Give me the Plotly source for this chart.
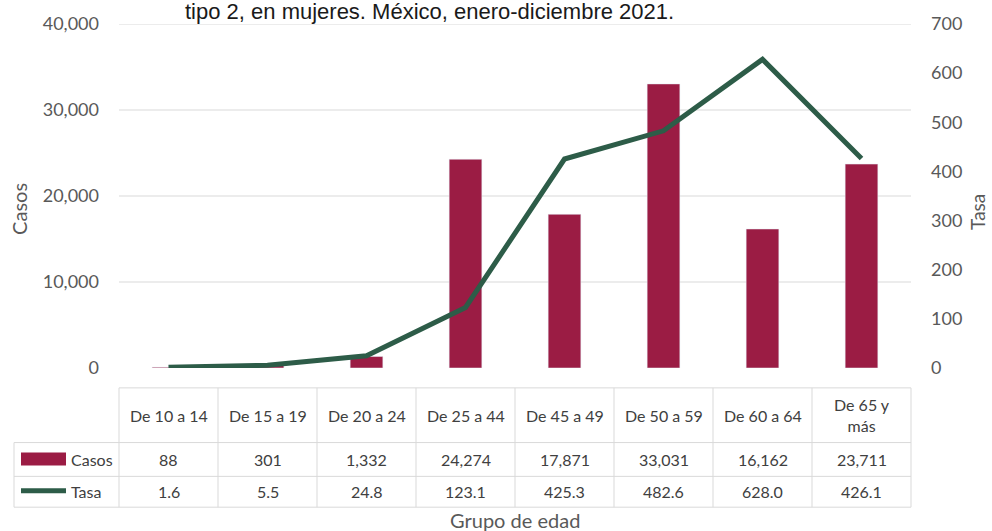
import plotly.graph_objects as go

# Data
grupos = ["De 10 a 14", "De 15 a 19", "De 20 a 24", "De 25 a 44",
          "De 45 a 49", "De 50 a 59", "De 60 a 64", "De 65 y<br>más"]
casos = [88, 301, 1332, 24274, 17871, 33031, 16162, 23711]
tasa = [1.6, 5.5, 24.8, 123.1, 425.3, 482.6, 628.0, 426.1]
casos_ticks = [0, 10000, 20000, 30000, 40000]
tasa_ticks = [0, 100, 200, 300, 400, 500, 600, 700]

BAR = "#9b1c44"
LINE = "#2d5c48"
GRID = "#d9d9d9"
TXT = "#404040"
AXT = "#595959"
FONT = "Lato"

W, H = 992, 531
L, R, T, B = 119, 81, 22, 163
PH = H - T - B  # plot height in px
PW = W - L - R  # plot width in px


def ypx(p):
    """Pixel row -> paper y."""
    return (H - B - p) / PH


def xpx(p):
    """Pixel column -> paper x."""
    return (p - L) / PW


n = len(grupos)
idx = list(range(n))

fig = go.Figure()
fig.add_trace(go.Bar(x=idx, y=casos, name="Casos", marker_color=BAR,
                     width=0.33, yaxis="y"))
fig.add_trace(go.Scatter(x=idx, y=tasa, name="Tasa", mode="lines",
                         line=dict(color=LINE, width=5), yaxis="y2"))

shapes = []
# horizontal gridlines of the Casos axis
for v in casos_ticks[1:]:
    shapes.append(dict(type="line", xref="paper", yref="y", x0=0, x1=1,
                       y0=v, y1=v, line=dict(color=GRID, width=1), layer="below"))

# data table below the plot
r_top, r1, r2, r_bot = 388, 443, 477, 508
tbl = dict(color=GRID, width=1)
shapes.append(dict(type="line", xref="paper", yref="paper", x0=0, x1=1,
                   y0=ypx(r_top), y1=ypx(r_top), line=tbl))
for r in (r1, r2, r_bot):
    shapes.append(dict(type="line", xref="paper", yref="paper", x0=xpx(14), x1=1,
                       y0=ypx(r), y1=ypx(r), line=tbl))
for k in range(n + 1):
    shapes.append(dict(type="line", xref="paper", yref="paper", x0=k / n, x1=k / n,
                       y0=ypx(r_top), y1=ypx(r_bot), line=tbl))
shapes.append(dict(type="line", xref="paper", yref="paper", x0=xpx(14), x1=xpx(14),
                   y0=ypx(r1), y1=ypx(r_bot), line=tbl))
# legend keys inside the table
shapes.append(dict(type="rect", xref="paper", yref="paper", x0=xpx(21), x1=xpx(66),
                   y0=ypx(466), y1=ypx(453), fillcolor=BAR, line=dict(width=0)))
shapes.append(dict(type="line", xref="paper", yref="paper", x0=xpx(21), x1=xpx(66),
                   y0=ypx(491.5), y1=ypx(491.5), line=dict(color=LINE, width=5)))

ann = []
tf = dict(family=FONT, size=16, color=TXT)
for i in idx:
    ann.append(dict(x=i, xref="x", y=ypx((r_top + r1) / 2), yref="paper",
                    text=grupos[i], showarrow=False, font=tf, yanchor="middle"))
    ann.append(dict(x=i, xref="x", y=ypx((r1 + r2) / 2), yref="paper",
                    text=f"{casos[i]:,}", showarrow=False, font=tf, yanchor="middle"))
    ann.append(dict(x=i, xref="x", y=ypx((r2 + r_bot) / 2), yref="paper",
                    text=f"{tasa[i]:.1f}", showarrow=False, font=tf, yanchor="middle"))
ann.append(dict(x=xpx(69), xref="paper", y=ypx((r1 + r2) / 2), yref="paper",
                text="Casos", showarrow=False, font=tf, xanchor="left", yanchor="middle"))
ann.append(dict(x=xpx(69), xref="paper", y=ypx((r2 + r_bot) / 2), yref="paper",
                text="Tasa", showarrow=False, font=tf, xanchor="left", yanchor="middle"))
# axis titles
ttl = dict(family=FONT, size=20, color=AXT)
ann.append(dict(x=0.5, xref="paper", y=ypx(521), yref="paper", text="Grupo de edad",
                showarrow=False, font=ttl, yanchor="middle"))
ann.append(dict(x=xpx(19), xref="paper", y=ypx(208), yref="paper", text="Casos",
                showarrow=False, font=ttl, textangle=-90,
                xanchor="center", yanchor="middle"))
ann.append(dict(x=xpx(978), xref="paper", y=ypx(211), yref="paper", text="Tasa",
                showarrow=False, font=dict(family=FONT, size=19, color=AXT),
                textangle=-90, xanchor="center", yanchor="middle"))
# chart title (last line)
ann.append(dict(x=xpx(429), xref="paper", y=ypx(9), yref="paper",
                text="tipo 2, en mujeres. México, enero-diciembre 2021.",
                showarrow=False,
                font=dict(family="Liberation Sans", size=22, color="#1a1a1a"),
                yanchor="middle"))

axfont = dict(family=FONT, size=18, color=AXT)
fig.update_layout(
    width=W, height=H,
    margin=dict(l=L, r=R, t=T, b=B, pad=0),
    paper_bgcolor="white", plot_bgcolor="white",
    showlegend=False,
    font=dict(family=FONT, color=AXT),
    xaxis=dict(range=[-0.5, n - 0.5], visible=False, fixedrange=True),
    yaxis=dict(range=[0, 40000], tickvals=casos_ticks, tickformat=",d",
               showgrid=False, zeroline=False, showline=False, ticks="",
               ticklabelstandoff=19, tickfont=axfont),
    yaxis2=dict(range=[0, 700], tickvals=tasa_ticks, overlaying="y", side="right",
                showgrid=False, zeroline=False, showline=False, ticks="",
                ticklabelstandoff=19, tickfont=axfont),
    shapes=shapes,
    annotations=ann,
)

fig.write_html("out.html")
